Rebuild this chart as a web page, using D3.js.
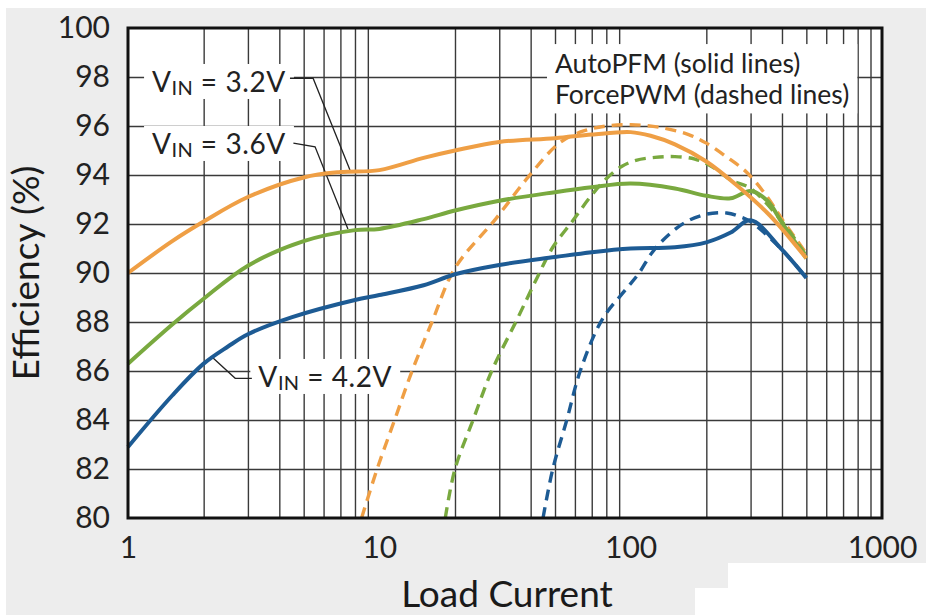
<!DOCTYPE html>
<html>
<head>
<meta charset="utf-8">
<script src="https://cdn.jsdelivr.net/npm/d3@7"></script>
<style>
  body { margin: 0; background: #fff; }
  svg { display: block; font-family: Lato, "Open Sans", sans-serif; }
</style>
</head>
<body>
<svg id="chart" width="926" height="615"></svg>
<script>
// ---- data ----
var yTicks = [80, 82, 84, 86, 88, 90, 92, 94, 96, 98, 100];
var xTicks = [1, 10, 100, 1000];
var xTickLabels = ["1", "10", "100", "1000"];

// AutoPFM (solid)
var i32 = [1, 1.5, 2, 3, 5, 7, 10, 15, 20, 30, 50, 70, 100, 120, 150, 200, 270, 350, 400, 500];
var e32 = [90.0, 91.3, 92.1, 93.1, 93.9, 94.12, 94.2, 94.7, 95.0, 95.35, 95.5, 95.65, 95.75, 95.6, 95.25, 94.55, 93.5, 92.45, 91.8, 90.6];
var i36 = [1, 1.5, 2, 3, 5, 8, 10, 15, 20, 30, 50, 70, 100, 150, 200, 250, 300, 350, 400, 500];
var e36 = [86.3, 87.9, 88.95, 90.3, 91.3, 91.75, 91.8, 92.2, 92.55, 92.95, 93.3, 93.5, 93.65, 93.45, 93.15, 93.05, 93.35, 92.95, 92.05, 90.6];
var i42 = [1, 1.5, 2, 2.5, 3, 4.5, 8, 10, 15, 20, 30, 50, 70, 100, 150, 200, 250, 300, 400, 500];
var e42 = [82.9, 85.0, 86.3, 87.0, 87.5, 88.2, 88.9, 89.1, 89.5, 89.95, 90.33, 90.65, 90.85, 91.0, 91.05, 91.25, 91.65, 92.15, 90.95, 89.8];

// ForcePWM (dashed)
var i32d = [8.5, 9.8, 11.5, 13.5, 16.2, 20, 29, 39, 52, 65, 80, 100, 130, 170, 200, 240, 290, 350, 400, 500];
var e32d = [80, 82, 84, 86, 88, 90.2, 92.2, 93.9, 95.3, 95.8, 96.0, 96.05, 95.95, 95.65, 95.3, 94.75, 94.1, 93.1, 92.2, 90.8];
var i36d = [18.3, 20, 23.6, 28, 35.3, 42.4, 49, 59, 69, 80, 92, 105, 125, 150, 180, 210, 250, 300, 400, 500];
var e36d = [80, 82, 84, 86, 88.1, 89.8, 91.05, 92.15, 93.1, 93.85, 94.35, 94.6, 94.72, 94.75, 94.65, 94.35, 93.8, 93.45, 92.1, 90.7];
var i42d = [44.8, 49, 55.7, 63, 77, 96, 108, 122, 143, 167, 200, 241, 272, 300, 400, 500];
var e42d = [80, 82, 84, 86, 88.1, 89.35, 90.0, 90.85, 91.6, 92.1, 92.4, 92.45, 92.3, 92.1, 90.95, 89.8];

// annotation leaders, in data units [load current, efficiency]
var lead32 = [[4.41, 97.95], [5.45, 97.95], [7.64, 94.2]];
var lead36 = [[4.55, 95.3], [5.55, 95.15], [7.5, 91.8]];
var lead42 = [[2.18, 86.53], [2.67, 85.7], [3.11, 85.7]];

var W = 926, H = 615;
var margin = { left: 128, right: 44, top: 28, bottom: 97 };
var svg = d3.select("#chart");

svg.append("rect").attr("width", W).attr("height", H).attr("fill", "#fff");
svg.append("rect").attr("x", 6).attr("y", 8).attr("width", W - 6).attr("height", H - 8).attr("fill", "#ededed");

var x = d3.scaleLog().domain([1, 1000]).range([margin.left, W - margin.right]);
var y = d3.scaleLinear().domain([80, 100]).range([H - margin.bottom, margin.top]);
var x0 = x.range()[0], x1 = x.range()[1], y0 = y.range()[1], y1 = y.range()[0];

svg.append("rect").attr("x", x0).attr("y", y0).attr("width", x1 - x0).attr("height", y1 - y0).attr("fill", "#fff");

// grid
var gridX = [];
[1, 10, 100].forEach(function(d) {
    for (var k = 2; k <= 9; k++) gridX.push(d * k);
});
svg.append("g").attr("class", "grid")
    .attr("transform", "translate(0," + y1 + ")")
    .call(d3.axisBottom(x).tickValues(gridX).tickSize(-(y1 - y0)).tickFormat(""))
    .call(function(g) { g.select(".domain").remove(); });
svg.append("g").attr("class", "grid")
    .attr("transform", "translate(" + x0 + ",0)")
    .call(d3.axisLeft(y).tickValues(yTicks.slice(1, -1)).tickSize(-(x1 - x0)).tickFormat(""))
    .call(function(g) { g.select(".domain").remove(); });
svg.selectAll(".grid line").attr("stroke", "#3a3a3a").attr("stroke-width", 1.4);

// axis labels
var yAxis = svg.append("g").attr("transform", "translate(" + x0 + ",0)")
    .call(d3.axisLeft(y).tickValues(yTicks).tickSize(0).tickPadding(18));
yAxis.select(".domain").remove();
yAxis.selectAll("text").attr("font-size", 30).attr("fill", "#222").attr("font-family", "Lato, sans-serif");

var xAxis = svg.append("g").attr("transform", "translate(0," + y1 + ")")
    .call(d3.axisBottom(x).tickValues(xTicks).tickSize(0).tickPadding(19)
        .tickFormat(function(d, i) { return xTickLabels[i]; }));
xAxis.select(".domain").remove();
xAxis.selectAll("text").attr("font-size", 30).attr("fill", "#222").attr("font-family", "Lato, sans-serif");

svg.append("text").attr("x", 507).attr("y", 607)
    .attr("text-anchor", "middle").attr("font-size", 37).attr("fill", "#1a1a1a").text("Load Current");
svg.append("text").attr("transform", "translate(39," + ((y0 + y1) / 2) + ") rotate(-90)")
    .attr("text-anchor", "middle").attr("font-size", 37).attr("fill", "#1a1a1a").text("Efficiency (%)");

// label boxes + texts
var notes = svg.append("g");
function boxed(g, pad) {
    var b = g.node().getBBox();
    g.insert("rect", ":first-child").attr("x", b.x - pad[0]).attr("y", b.y - pad[1])
        .attr("width", b.width + 2 * pad[0]).attr("height", b.height + 2 * pad[1]).attr("fill", "#fff");
}
function vinLabel(v, xi, ye, anchor) {
    var g = notes.append("g");
    var t = g.append("text").attr("x", x(xi)).attr("y", y(ye)).attr("dy", "0.36em")
        .attr("text-anchor", anchor).attr("font-size", 28).attr("letter-spacing", 0.6).attr("fill", "#222");
    t.append("tspan").text("V");
    t.append("tspan").attr("font-size", 20).attr("dy", 3).attr("letter-spacing", 0.3).text("IN");
    t.append("tspan").attr("dy", -3).text(" = " + v);
    boxed(g, [8, 0]);
}
vinLabel("3.2V", 4.25, 97.8, "end");
vinLabel("3.6V", 4.25, 95.27, "end");
vinLabel("4.2V", 3.3, 85.76, "start");

var leg = notes.append("g");
leg.append("text").attr("x", x(50)).attr("y", y(98.55)).attr("dy", "0.36em")
    .attr("font-size", 26.5).attr("fill", "#222").text("AutoPFM (solid lines)");
leg.append("text").attr("x", x(50)).attr("y", y(97.27)).attr("dy", "0.36em")
    .attr("font-size", 26.5).attr("fill", "#222").text("ForcePWM (dashed lines)");
boxed(leg, [8, 3]);

var leader = d3.line().x(function(d) { return x(d[0]); }).y(function(d) { return y(d[1]); });
[lead32, lead36, lead42].forEach(function(p) {
    notes.append("path").attr("d", leader(p)).attr("fill", "none").attr("stroke", "#222").attr("stroke-width", 1.3);
});

// curves
var orange = "#ef9f45", green = "#79a93f", blue = "#1d5b94";
var line = d3.line().x(function(d) { return x(d[0]); }).y(function(d) { return y(d[1]); })
    .curve(d3.curveCatmullRom.alpha(0.5));
function pairs(a, b) { return a.map(function(d, i) { return [d, b[i]]; }); }

var plot = svg.append("g");
function curve(xs, ys, color, dashed) {
    plot.append("path").attr("d", line(pairs(xs, ys))).attr("fill", "none")
        .attr("stroke", color).attr("stroke-width", dashed ? 3.4 : 4)
        .attr("stroke-dasharray", dashed ? "11,7" : null)
        .attr("stroke-linejoin", "round");
}
curve(i32d, e32d, orange, true);
curve(i36d, e36d, green, true);
curve(i42d, e42d, blue, true);
curve(i42, e42, blue, false);
curve(i36, e36, green, false);
curve(i32, e32, orange, false);

// frame
svg.append("rect").attr("x", x0).attr("y", y0).attr("width", x1 - x0).attr("height", y1 - y0)
    .attr("fill", "none").attr("stroke", "#111").attr("stroke-width", 3);

// watermark patch bottom right
svg.append("rect").attr("x", 728).attr("y", 563).attr("width", 198).attr("height", 52).attr("fill", "#fff");
svg.append("rect").attr("x", 695).attr("y", 588).attr("width", 231).attr("height", 27).attr("fill", "#fff");
</script>
</body>
</html>
